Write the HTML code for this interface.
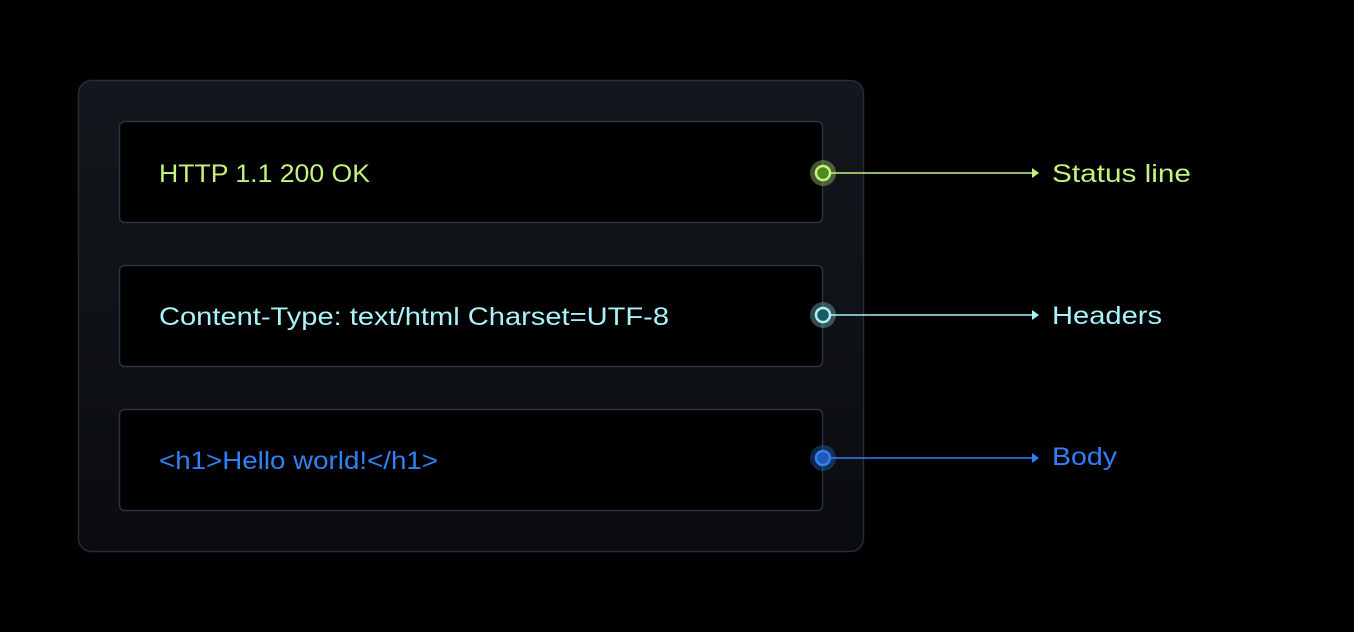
<!DOCTYPE html>
<html><head><meta charset="utf-8"><style>
html,body{margin:0;padding:0;background:#000;}
svg{display:block}
text{font-family:"Liberation Sans",sans-serif;font-size:25px;}
</style></head><body>
<svg width="1354" height="632" viewBox="0 0 1354 632" xmlns="http://www.w3.org/2000/svg">
<defs>
<linearGradient id="g" x1="0" y1="0" x2="0" y2="1">
<stop offset="0" stop-color="#13171d"/><stop offset="1" stop-color="#0a0c0f"/>
</linearGradient>
</defs>
<rect x="0" y="0" width="1354" height="632" fill="#000"/>
<rect x="78.5" y="80.5" width="785" height="471" rx="13" fill="url(#g)" stroke="#252c37" stroke-width="1.5"/>
<rect x="119.5" y="121.5" width="703" height="101" rx="5" fill="#000" stroke="#2b3342" stroke-width="1.5"/>
<rect x="119.5" y="265.5" width="703" height="101" rx="5" fill="#000" stroke="#2b3342" stroke-width="1.5"/>
<rect x="119.5" y="409.5" width="703" height="101" rx="5" fill="#000" stroke="#2b3342" stroke-width="1.5"/>

<text x="159" y="182" fill="#c4f27f" textLength="211" lengthAdjust="spacingAndGlyphs">HTTP 1.1 200 OK</text>
<text x="159" y="325" fill="#a8f2fa" textLength="510" lengthAdjust="spacingAndGlyphs">Content-Type: text/html Charset=UTF-8</text>
<text x="159" y="469" fill="#2f81f7" textLength="279" lengthAdjust="spacingAndGlyphs">&lt;h1&gt;Hello world!&lt;/h1&gt;</text>

<g>
<line x1="823" y1="173" x2="1034" y2="173" stroke="#c4f27f" stroke-width="1.6"/>
<path d="M1032 168 L1039 173 L1032 178 Z" fill="#c4f27f"/>
<circle cx="823" cy="173" r="13" fill="#c4f27f" opacity="0.35"/>
<circle cx="823" cy="173" r="7" fill="#4e8a1c" stroke="#c4f27f" stroke-width="2.5"/>
<text x="1052" y="182" fill="#c4f27f" textLength="139" lengthAdjust="spacingAndGlyphs">Status line</text>
</g>
<g>
<line x1="823" y1="315" x2="1034" y2="315" stroke="#a8f2fa" stroke-width="1.6"/>
<path d="M1032 310 L1039 315 L1032 320 Z" fill="#a8f2fa"/>
<circle cx="823" cy="315" r="13" fill="#a8f2fa" opacity="0.3"/>
<circle cx="823" cy="315" r="7" fill="#1c5a66" stroke="#a8f2fa" stroke-width="2.5"/>
<text x="1052" y="324" fill="#a8f2fa" textLength="110" lengthAdjust="spacingAndGlyphs">Headers</text>
</g>
<g>
<line x1="823" y1="458" x2="1034" y2="458" stroke="#2f81f7" stroke-width="1.6"/>
<path d="M1032 453 L1039 458 L1032 463 Z" fill="#2f81f7"/>
<circle cx="823" cy="458" r="13" fill="#2f81f7" opacity="0.3"/>
<circle cx="823" cy="458" r="7" fill="#1f5bb5" stroke="#2f81f7" stroke-width="2.5"/>
<text x="1052" y="465" fill="#2f81f7" textLength="65" lengthAdjust="spacingAndGlyphs">Body</text>
</g>
</svg>
</body></html>
